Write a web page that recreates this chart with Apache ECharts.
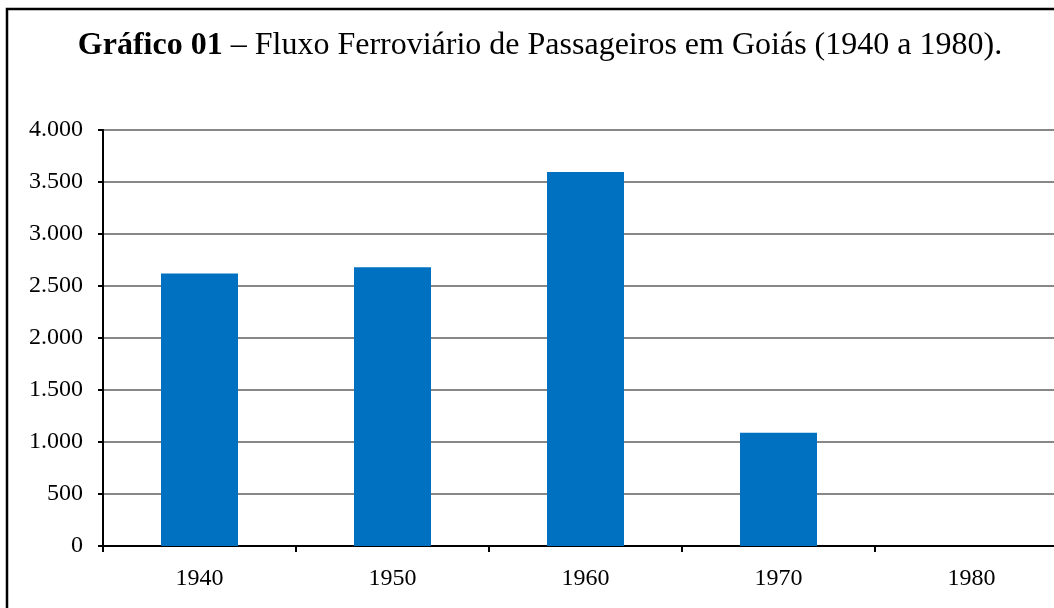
<!DOCTYPE html>
<html>
<head>
<meta charset="utf-8">
<script src="https://cdn.jsdelivr.net/npm/echarts@6/dist/echarts.min.js"></script>
<style>
  html, body { margin: 0; padding: 0; background: #fff; }
  #chart { width: 1054px; height: 608px; }
</style>
</head>
<body>
<div id="chart"></div>
<script>
const years = ["1940", "1950", "1960", "1970", "1980"];
const passageiros = [2620, 2680, 3595, 1090, 0];
const yTicks = { min: 0, max: 4000, step: 500 };

const serif = '"Liberation Serif", "Times New Roman", serif';

// milhar com ponto: 2500 -> 2.500
function fmt(v) {
  return String(v).replace(/\B(?=(\d{3})+(?!\d))/g, ".");
}

const chart = echarts.init(document.getElementById("chart"));

const option = {
  backgroundColor: "#fff",
  animation: false,
  title: {
    text: "{b|Gráfico 01} – Fluxo Ferroviário de Passageiros em Goiás (1940 a 1980).",
    left: 535,
    textAlign: "center",
    top: 25,
    textStyle: {
      fontFamily: serif,
      fontSize: 32,
      fontWeight: "normal",
      color: "#000",
      rich: {
        b: { fontFamily: serif, fontSize: 32, fontWeight: "bold", color: "#000" },
      },
    },
  },
  // moldura do gráfico (cortada à direita e embaixo)
  graphic: [
    {
      type: "rect",
      shape: { x: 7, y: 9, width: 1200, height: 800 },
      style: { fill: "none", stroke: "#000", lineWidth: 2.5 },
      silent: true,
    },
  ],
  grid: {
    left: 103,
    top: 130,
    width: 965,
    height: 416,
    containLabel: false,
    outerBoundsMode: "none",
  },
  xAxis: {
    type: "category",
    data: years,
    boundaryGap: true,
    axisLine: { lineStyle: { color: "#000", width: 2 } },
    axisTick: { show: true, alignWithLabel: false, length: 6, lineStyle: { color: "#000", width: 2 } },
    axisLabel: { fontFamily: serif, fontSize: 24, color: "#000", margin: 21 },
  },
  yAxis: {
    type: "value",
    min: yTicks.min,
    max: yTicks.max,
    interval: yTicks.step,
    axisLine: { show: true, lineStyle: { color: "#000", width: 2 } },
    axisTick: { show: true, length: 5, lineStyle: { color: "#000", width: 2 } },
    axisLabel: { fontFamily: serif, fontSize: 24, color: "#000", margin: 20, formatter: fmt },
    splitLine: { lineStyle: { color: "#888", width: 2 } },
  },
  series: [
    {
      type: "bar",
      data: passageiros,
      barWidth: 77,
      itemStyle: { color: "#0070C0" },
    },
  ],
};

chart.setOption(option);
</script>
</body>
</html>
